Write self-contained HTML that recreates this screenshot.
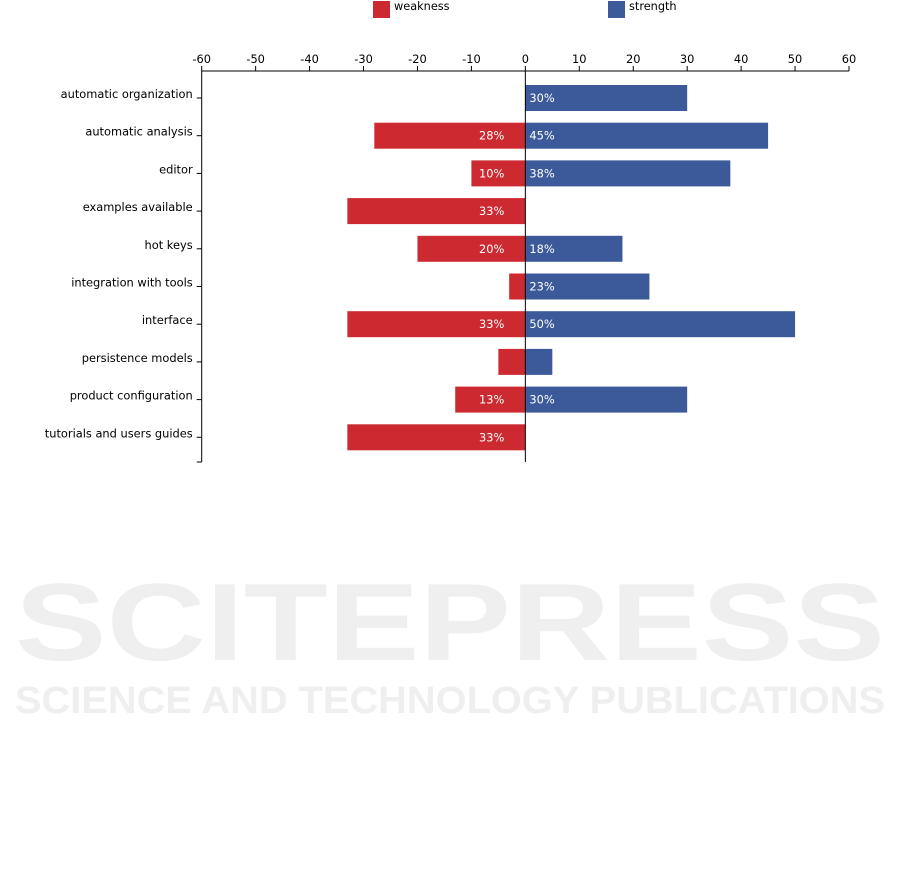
<!DOCTYPE html>
<html><head><meta charset="utf-8"><style>
body{margin:0;background:#fff;width:901px;height:887px;overflow:hidden}
svg{display:block;font-family:"DejaVu Sans","Liberation Sans",sans-serif}
</style></head><body>
<svg id="chart" width="901" height="887">
<g fill="#efefef" font-family="Liberation Sans, sans-serif" font-weight="bold">
<text x="450" y="660" text-anchor="middle" font-size="110" textLength="870" lengthAdjust="spacingAndGlyphs">SCITEPRESS</text>
<text x="450" y="713" text-anchor="middle" font-size="38" textLength="870" lengthAdjust="spacingAndGlyphs">SCIENCE AND TECHNOLOGY PUBLICATIONS</text>
</g>
<g>
<rect x="373" y="1" width="17" height="17" fill="#cc2a30"/>
<text x="394" y="10" font-size="11.3" fill="#000">weakness</text>
<rect x="608" y="1" width="17" height="17" fill="#3c5a9a"/>
<text x="629" y="10" font-size="11.3" fill="#000">strength</text>
</g>
<g id="plot"></g>
</svg>
<script>
const categories=["automatic organization","automatic analysis","editor","examples available","hot keys","integration with tools","interface","persistence models","product configuration","tutorials and users guides"];
const weakness=[0,-28,-10,-33,-20,-3,-33,-5,-13,-33];
const strength=[30,45,38,0,18,23,50,5,30,0];
const weaknessLabels=["","28%","10%","33%","20%","","33%","","13%","33%"];
const strengthLabels=["30%","45%","38%","","18%","23%","50%","","30%",""];
const xTicks=[-60,-50,-40,-30,-20,-10,0,10,20,30,40,50,60];
const NS="http://www.w3.org/2000/svg";
const X0=201.7,X1=849,AXTOP=71,STEP=37.7,FIRSTY=85,BARH=26,AXBOTTOM=462,FS=11.4;
const xs=v=>X0+(v+60)/120*(X1-X0);
const ys=i=>FIRSTY+i*STEP;
const g=document.getElementById('plot');
function mk(t,a){const e=document.createElementNS(NS,t);for(const k in a)e.setAttribute(k,a[k]);g.appendChild(e);return e;}
categories.forEach((c,i)=>{
  if(weakness[i]!==0){const r=mk('rect',{x:xs(weakness[i]),y:ys(i),width:xs(0)-xs(weakness[i]),height:BARH,fill:'#cc2a30'});
  
  }
  if(strength[i]!==0){const r=mk('rect',{x:xs(0),y:ys(i),width:xs(strength[i])-xs(0),height:BARH,fill:'#3c5a9a'});
  
  }
  if(weaknessLabels[i]){const t=mk('text',{x:xs(0)-21,y:ys(i)+17,'font-size':FS,fill:'#fff','text-anchor':'end'});t.textContent=weaknessLabels[i];
  
  }
  if(strengthLabels[i]){const t=mk('text',{x:xs(0)+4,y:ys(i)+17,'font-size':FS,fill:'#fff'});t.textContent=strengthLabels[i];
  
  }
  const cy=ys(i)+BARH/2;
  mk('line',{x1:X0-5,x2:X0,y1:cy,y2:cy,stroke:'#000'});
  const t=mk('text',{x:X0-9,y:cy,'font-size':FS,fill:'#000','text-anchor':'end'});t.textContent=c;
  
  
});
mk('line',{x1:X0-5,x2:X0,y1:AXBOTTOM,y2:AXBOTTOM,stroke:'#000'});
xTicks.forEach(v=>{
  mk('line',{x1:xs(v),x2:xs(v),y1:AXTOP-5,y2:AXTOP,stroke:'#000'});
  const t=mk('text',{x:xs(v),y:AXTOP-8,'font-size':FS,fill:'#000','text-anchor':'middle'});t.textContent=v;
  
  
});
const xa=mk('line',{x1:X0,x2:X1,y1:AXTOP,y2:AXTOP,stroke:'#000'});


const ya=mk('line',{x1:X0,x2:X0,y1:AXTOP,y2:AXBOTTOM,stroke:'#000'});


const zl=mk('line',{x1:xs(0),x2:xs(0),y1:AXTOP,y2:AXBOTTOM,stroke:'#000'});


</script>
</body></html>
